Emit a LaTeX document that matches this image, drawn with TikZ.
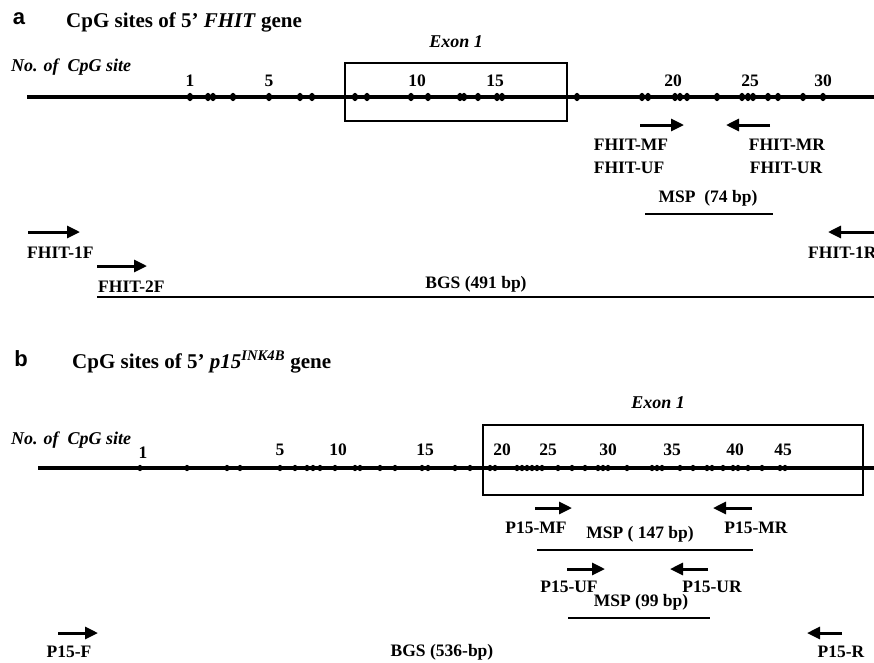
\documentclass[tikz,border=0pt]{standalone}
\usepackage{fontspec}
\setmainfont{Liberation Serif}
\newfontfamily\labsans{Liberation Sans}
\usetikzlibrary{arrows.meta}
\tikzset{
  x=1pt,y=-1pt,
  txt/.style={inner sep=0pt,font=\fontsize{17.5}{20}\selectfont\bfseries},
  num/.style={inner sep=0pt,font=\fontsize{17.5}{20}\selectfont\bfseries},
  ttl/.style={inner sep=0pt,anchor=west,font=\fontsize{21}{24}\selectfont\bfseries},
  panel/.style={inner sep=0pt,font=\fontsize{22}{25}\selectfont\labsans\bfseries},
  site/.style={inner sep=0pt,anchor=west,font=\fontsize{18}{20}\selectfont\bfseries\itshape},
  dna/.style={line width=3.2pt},
  exonbox/.style={line width=1.8pt},
  primer/.style={line width=3pt,-{Triangle[length=13pt,width=12pt]}},
  product/.style={line width=2.4pt},
}
\begin{document}
\begin{tikzpicture}
\clip (0,0) rectangle (874,662);
\fill[white] (0,0) rectangle (874,662);
% ---------------- panel a ----------------
\node[panel] (pa) at (19,19) {a};
\node[ttl] (ta) at (66,22) {CpG sites of 5' \textit{FHIT} gene};
\node[site] (noa) at (11,67) {No. of \ CpG site};
\node[site,anchor=center] (exa) at (456,42) {Exon 1};
\coordinate (la1) at (27,97);
\coordinate (la2) at (880,97);
\draw[dna] (la1) -- (la2);
\draw[exonbox] (345,63) rectangle (567,121);
\foreach \x in {190,208,213,233,269,300,312,355,367,411,428,460,464,478,497,502,577,642,648,675,680,687,717,742,748,753,768,778,803,823}
  \fill (\x,97) ellipse (3 and 4.2);
\foreach \x/\t in {190/1,269/5,417/10,495/15,673/20,750/25,823/30}
  \node[num] at (\x,81) {\t};
% MSP primers
\coordinate (mf1) at (640,125); \coordinate (mf2) at (684,125);
\coordinate (mr1) at (770,125); \coordinate (mr2) at (726,125);
\draw[primer] (mf1) -- (mf2);
\draw[primer] (mr1) -- (mr2);
\node[txt] (fmf) at (631,145) {FHIT-MF};
\node[txt] (fuf) at (629,168) {FHIT-UF};
\node[txt] (fmr) at (787,145) {FHIT-MR};
\node[txt] (fur) at (786,168) {FHIT-UR};
\node[txt] (msa) at (708,198) {MSP \ (74 bp)};
\coordinate (ma1) at (645,214); \coordinate (ma2) at (773,214);
\draw[product] (ma1) -- (ma2);
% BGS primers
\coordinate (f1a) at (28,232); \coordinate (f1b) at (80,232);
\draw[primer] (f1a) -- (f1b);
\node[txt,anchor=west] (f1) at (27,253) {FHIT-1F};
\coordinate (f2a) at (97,266); \coordinate (f2b) at (147,266);
\draw[primer] (f2a) -- (f2b);
\node[txt,anchor=west] (f2) at (98,287) {FHIT-2F};
\coordinate (r1a) at (890,232); \coordinate (r1b) at (828,232);
\draw[primer] (r1a) -- (r1b);
\node[txt,anchor=west] (r1) at (808,253) {FHIT-1R};
\node[txt] (bgsa) at (476,284) {BGS (491 bp)};
\coordinate (ba1) at (97,297); \coordinate (ba2) at (880,297);
\draw[product] (ba1) -- (ba2);
% ---------------- panel b ----------------
\node[panel] (pb) at (21,359) {b};
\node[ttl] (tb) at (72,362) {CpG sites of 5' \textit{p15}\textsuperscript{\textit{INK4B}} gene};
\node[site] (nob) at (11,440) {No. of \ CpG site};
\node[site,anchor=center] (exb) at (658,403) {Exon 1};
\coordinate (lb1) at (38,468);
\coordinate (lb2) at (880,468);
\draw[dna] (lb1) -- (lb2);
\draw[exonbox] (483,425) rectangle (863,495);
\foreach \x in {140,187,227,240,280,295,307,313,320,335,355,360,380,395,422,428,455,470,490,495,517,522,527,532,537,542,558,572,585,598,603,608,627,652,657,662,680,693,707,712,723,733,738,748,762,780,785}
  \fill (\x,468) ellipse (2.4 and 3.2);
\node[num] at (143,453) {1};
\foreach \x/\t in {280/5,338/10,425/15,502/20,548/25,608/30,672/35,735/40,783/45}
  \node[num] at (\x,450) {\t};
% MSP 147
\coordinate (pmf1) at (535,508); \coordinate (pmf2) at (572,508);
\coordinate (pmr1) at (752,508); \coordinate (pmr2) at (713,508);
\draw[primer] (pmf1) -- (pmf2);
\draw[primer] (pmr1) -- (pmr2);
\node[txt] (pmf) at (536,528) {P15-MF};
\node[txt] (pmr) at (756,528) {P15-MR};
\node[txt] (ms147) at (640,534) {MSP ( 147 bp)};
\coordinate (m1a) at (537,550); \coordinate (m1b) at (753,550);
\draw[product] (m1a) -- (m1b);
% MSP 99
\coordinate (puf1) at (567,569); \coordinate (puf2) at (605,569);
\coordinate (pur1) at (708,569); \coordinate (pur2) at (670,569);
\draw[primer] (puf1) -- (puf2);
\draw[primer] (pur1) -- (pur2);
\node[txt] (puf) at (569,587) {P15-UF};
\node[txt] (pur) at (712,587) {P15-UR};
\node[txt] (ms99) at (641,602) {MSP (99 bp)};
\coordinate (m2a) at (568,618); \coordinate (m2b) at (710,618);
\draw[product] (m2a) -- (m2b);
% BGS
\coordinate (pfa) at (58,633); \coordinate (pfb) at (98,633);
\draw[primer] (pfa) -- (pfb);
\node[txt] (pf) at (69,652) {P15-F};
\coordinate (pra) at (842,633); \coordinate (prb) at (807,633);
\draw[primer] (pra) -- (prb);
\node[txt] (pr) at (841,652) {P15-R};
\node[txt] (bgsb) at (442,652) {BGS (536-bp)};
\end{tikzpicture}
\end{document}
